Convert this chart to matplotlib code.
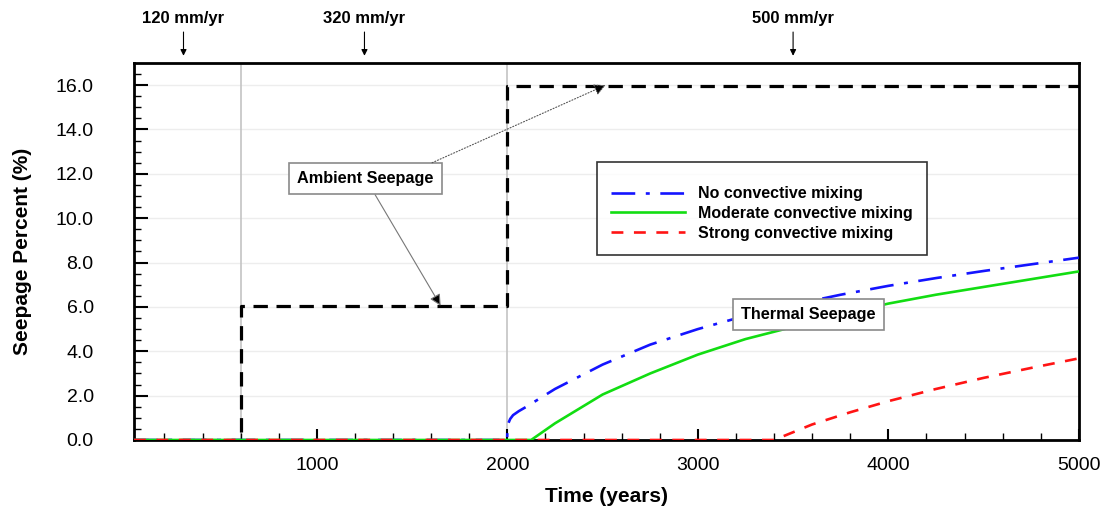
import numpy as np
import matplotlib
matplotlib.use("Agg")
import matplotlib.pyplot as plt

plt.rcParams["font.family"] = ["Liberation Sans", "DejaVu Sans"]

# ambient seepage (step)
amb_t = [40, 600, 600, 2000, 2000, 5000]
amb_v = [0.0, 0.0, 6.05, 6.05, 15.95, 15.95]

# thermal seepage curves
no_mix_t = [40, 1999, 2000, 2005, 2015, 2030, 2060, 2100, 2250, 2500, 2750, 3000, 3250, 3500, 3750, 4000, 4250, 4500, 4750, 5000]
no_mix_v = [0.0, 0.0, 0.5, 0.75, 0.95, 1.12, 1.3, 1.5, 2.3, 3.4, 4.3, 5.0, 5.6, 6.1, 6.55, 6.95, 7.3, 7.62, 7.92, 8.22]
mod_t = [40, 2125, 2250, 2500, 2750, 3000, 3250, 3500, 3750, 4000, 4250, 4500, 4750, 5000]
mod_v = [0.0, 0.0, 0.75, 2.05, 3.0, 3.85, 4.55, 5.1, 5.65, 6.15, 6.55, 6.9, 7.25, 7.6]
strong_t = [40, 3400, 3600, 3800, 4000, 4250, 4500, 4750, 5000]
strong_v = [0.0, 0.0, 0.7, 1.25, 1.75, 2.3, 2.8, 3.25, 3.68]

rates = ["120 mm/yr", "320 mm/yr", "500 mm/yr"]
rate_t = [300, 1250, 3500]

fig = plt.figure(figsize=(11.09, 5.16), dpi=100)
ax = fig.add_axes([0.1208, 0.1473, 0.852, 0.7307])

for y in np.arange(2, 17, 2):
    ax.axhline(y, color="#ededed", lw=1, zorder=0)
ax.axvline(600, color="#c4c4c4", lw=1.2, zorder=1)
ax.axvline(2000, color="#c4c4c4", lw=1.2, zorder=1)

ax.plot(amb_t, amb_v, color="black", lw=2.3, dashes=(4.5, 2.7), zorder=3)
ax.plot(no_mix_t, no_mix_v, color="#1414ff", lw=1.9, dashes=(9, 4, 1.5, 4),
        label="No convective mixing", zorder=4)
ax.plot(mod_t, mod_v, color="#12dd12", lw=1.9, label="Moderate convective mixing", zorder=4)
ax.plot(strong_t, strong_v, color="#ff1414", lw=1.9, dashes=(4.5, 4),
        label="Strong convective mixing", zorder=4)

ax.set_xlim(40, 5000)
ax.set_ylim(0, 17)
ax.set_xticks([1000, 2000, 3000, 4000, 5000])
ax.set_xticks(np.arange(200, 5000, 200), minor=True)
ax.set_yticks(np.arange(0, 17, 2))
ax.set_yticklabels(["%.1f" % v for v in np.arange(0, 17, 2)])
ax.set_yticks(np.arange(0, 17, 0.5), minor=True)
ax.tick_params(which="both", direction="in", labelsize=14, width=1.5)
ax.tick_params(axis="x", which="major", length=8, pad=12)
ax.tick_params(axis="y", which="major", length=10, pad=29)
ax.tick_params(which="minor", length=5, width=1)
for s in ax.spines.values():
    s.set_linewidth(2)

ax.set_xlabel("Time (years)", fontsize=15, fontweight="bold")
ax.set_ylabel("Seepage Percent (%)", fontsize=15, fontweight="bold")
ax.xaxis.set_label_coords(0.5, -0.125)
ax.yaxis.set_label_coords(-0.108, 0.5)

leg = ax.legend(loc="upper left", bbox_to_anchor=(0.49, 0.737), frameon=True,
                fancybox=False, edgecolor="black", handlelength=4.6,
                handletextpad=0.8, prop={"weight": "bold", "size": 11.5},
                borderpad=0.9, labelspacing=0.3, borderaxespad=0,
                title=" ", title_fontsize=4)
leg.get_frame().set_linewidth(1.2)

bbox = dict(boxstyle="square,pad=0.5", fc="white", ec="#8a8a8a", lw=1.2)
ax.annotate("Ambient Seepage", xy=(1650, 6.05), xytext=(1255, 11.8),
            fontsize=11.7, fontweight="bold", ha="center", va="center", bbox=bbox,
            arrowprops=dict(arrowstyle="-|>", color="#777777", lw=0.8,
                            mutation_scale=17, fc="black", shrinkA=0, shrinkB=0),
            zorder=6)
ax.annotate("", xy=(2516, 16.0), xytext=(1605, 12.5),
            arrowprops=dict(arrowstyle="-|>", color="#555555", lw=0.8, ls=":",
                            mutation_scale=17, fc="black", shrinkA=0, shrinkB=0),
            zorder=6)
ax.text(3579, 5.67, "Thermal Seepage", fontsize=11.7, fontweight="bold",
        ha="center", va="center", bbox=bbox, zorder=6)

for t, lab in zip(rate_t, rates):
    ax.annotate("", xy=(t, 1.019), xytext=(t, 1.082), xycoords=("data", "axes fraction"),
                arrowprops=dict(arrowstyle="-|>", color="black", lw=0.8,
                                mutation_scale=9, shrinkA=0, shrinkB=0),
                annotation_clip=False)
    ax.text(t, 1.119, lab, transform=ax.get_xaxis_transform(), ha="center",
            va="center", fontsize=12, fontweight="bold")

fig.savefig("out.png", dpi=100)
